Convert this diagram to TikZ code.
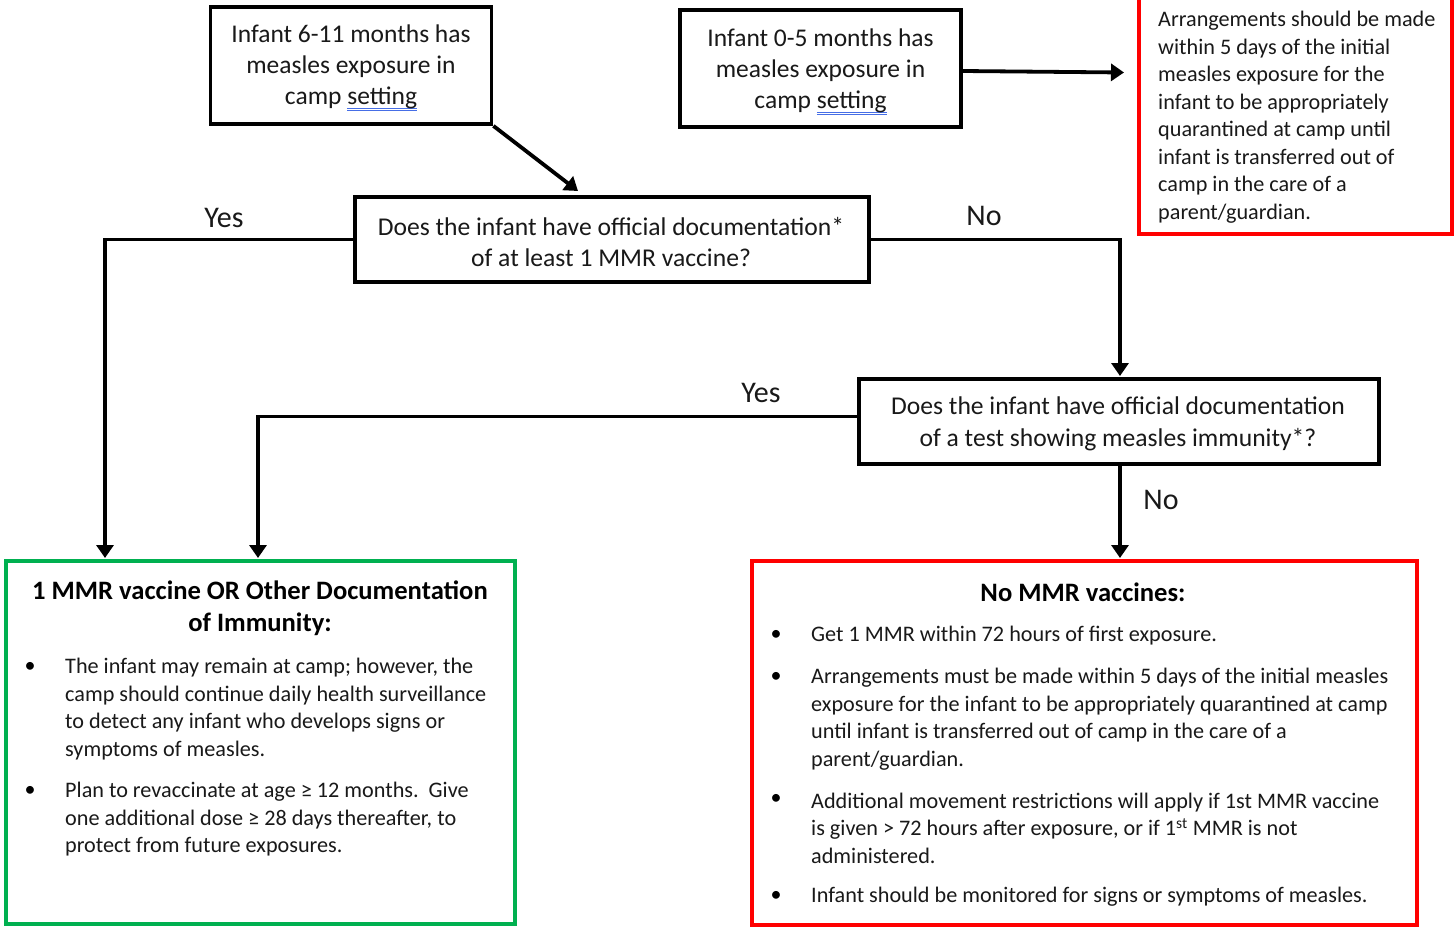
\documentclass[tikz,border=0pt]{standalone}
\usepackage{fontspec}
\setmainfont{Carlito}
\usetikzlibrary{arrows.meta,calc}
\definecolor{boxred}{RGB}{255,0,0}
\definecolor{boxgreen}{RGB}{0,176,80}
\definecolor{txtc}{RGB}{25,25,25}
\definecolor{ulblue}{RGB}{70,110,230}
\newcommand\myfs[2]{\fontsize{#1}{#2}\selectfont}
\newcommand\dblu[1]{\setbox0=\hbox{#1}\rlap{\textcolor{ulblue}{\rule[-4pt]{\wd0}{1pt}}}\rlap{\textcolor{ulblue}{\rule[-6.5pt]{\wd0}{1pt}}}\box0}
\begin{document}
\begin{tikzpicture}[x=1pt,y=-1pt,
  bbox/.style={draw=black, line width=3.8pt, align=center, inner sep=0pt, text=txtc},
  redbox/.style={draw=boxred, line width=3.5pt, inner sep=0pt},
  greenbox/.style={draw=boxgreen, line width=3.5pt, inner sep=0pt},
  arr/.style={line width=3.8pt, -{Triangle[length=13pt,width=17pt]}},
  lbl/.style={font=\myfs{30}{36}, text=txtc, inner sep=0pt},
  body/.style={font=\myfs{22.2}{27.5}, text=txtc, align=left, inner sep=0pt, anchor=west},
  bul/.style={font=\myfs{22}{27.5}, text=black, inner sep=0pt},
  ttl/.style={font=\bfseries\myfs{26.6}{32}, text=black, align=center, inner sep=0pt}]
\useasboundingbox (0,0) rectangle (1454,927);
\fill[white] (0,0) rectangle (1454,927);

% top boxes
\node[bbox, minimum width=281pt, minimum height=117pt] (A) at (351,65.5) {};
\node[font=\myfs{25.5}{31}, align=center, text=txtc, inner sep=0pt] (At) at (351,68)
  {Infant 6-11 months has\\measles exposure in\\camp \dblu{setting}};
\node[bbox, minimum width=281pt, minimum height=117pt] (B) at (820.5,68.5) {};
\node[font=\myfs{25.5}{31}, align=center, text=txtc, inner sep=0pt] (Bt) at (820.5,72)
  {Infant 0-5 months has\\measles exposure in\\camp \dblu{setting}};

% top right red note
\node[redbox, minimum width=313pt, minimum height=250pt] (C) at (1295.5,109) {};
\node[body] (Ct) at (1158,117) {Arrangements should be made\\within 5 days of the initial\\measles exposure for the\\infant to be appropriately\\quarantined at camp until\\infant is transferred out of\\camp in the care of a\\parent/guardian.};

% questions
\node[bbox, minimum width=514pt, minimum height=85pt] (D) at (612,239.5) {};
\node[font=\myfs{25.6}{30.5}, align=center, text=txtc, inner sep=0pt] (Dt) at (611,242)
  {Does the infant have official documentation*\\of at least 1 MMR vaccine?};
\node[bbox, minimum width=520pt, minimum height=85pt] (E) at (1119,421.5) {};
\node[font=\myfs{25.6}{32}, align=center, text=txtc, inner sep=0pt] (Et) at (1118,423.5)
  {Does the infant have official documentation\\of a test showing measles immunity*?};

% outcome boxes
\node[greenbox, minimum width=509pt, minimum height=363pt] (F) at (260.5,742.5) {};
\node[redbox, minimum width=665pt, minimum height=364pt] (G) at (1084.5,743) {};

% green content
\node[ttl] (Ft) at (260,608.5) {1 MMR vaccine OR Other Documentation\\of Immunity:};
\node[bul] (Fb1) at (30,667) {\textbullet};
\node[body] (Fp1) at (65,709) {The infant may remain at camp; however, the\\camp should continue daily health surveillance\\to detect any infant who develops signs or\\symptoms of measles.};
\node[bul] (Fb2) at (30,791) {\textbullet};
\node[body] (Fp2) at (65,819.5) {Plan to revaccinate at age ≥ 12 months.\ \ Give\\one additional dose ≥ 28 days thereafter, to\\protect from future exposures.};

% red content
\node[ttl] (Gt) at (1083,592) {No MMR vaccines:};
\node[bul] (Gb1) at (776,635) {\textbullet};
\node[body] (Gp1) at (811,636) {Get 1 MMR within 72 hours of first exposure.};
\node[bul] (Gb2) at (776,677) {\textbullet};
\node[body] (Gp2) at (811,719) {Arrangements must be made within 5 days of the initial measles\\exposure for the infant to be appropriately quarantined at camp\\until infant is transferred out of camp in the care of a\\parent/guardian.};
\node[bul] (Gb3) at (776,799) {\textbullet};
\node[body] (Gp3) at (811,828) {Additional movement restrictions will apply if 1st MMR vaccine\\is given > 72 hours after exposure, or if 1\textsuperscript{st} MMR is not\\administered.};
\node[bul] (Gb4) at (776,896) {\textbullet};
\node[body] (Gp4) at (811,897) {Infant should be monitored for signs or symptoms of measles.};

% labels
\node[lbl] (y1) at (224,218) {Yes};
\node[lbl] (n1) at (984,216) {No};
\node[lbl] (y2) at (761,393) {Yes};
\node[lbl] (n2) at (1161,500) {No};

% connector end points
\coordinate (ad) at (578,191);
\coordinate (bc) at (1124,72.5);
\coordinate (df) at (105,558);
\coordinate (de) at (1120,376);
\coordinate (ef) at (258,558);
\coordinate (eg) at (1120,558);

% connectors
\draw[arr] (A.south east) -- (ad);
\draw[arr] ($(B.east)+(0,2.5)$) -- (bc);
\draw[arr] (D.west) -| (df);
\draw[arr] (D.east) -| (de);
\draw[arr] ($(E.west)+(0,-5)$) -| (ef);
\draw[arr] (E.south -| eg) -- (eg);
\end{tikzpicture}
\end{document}
